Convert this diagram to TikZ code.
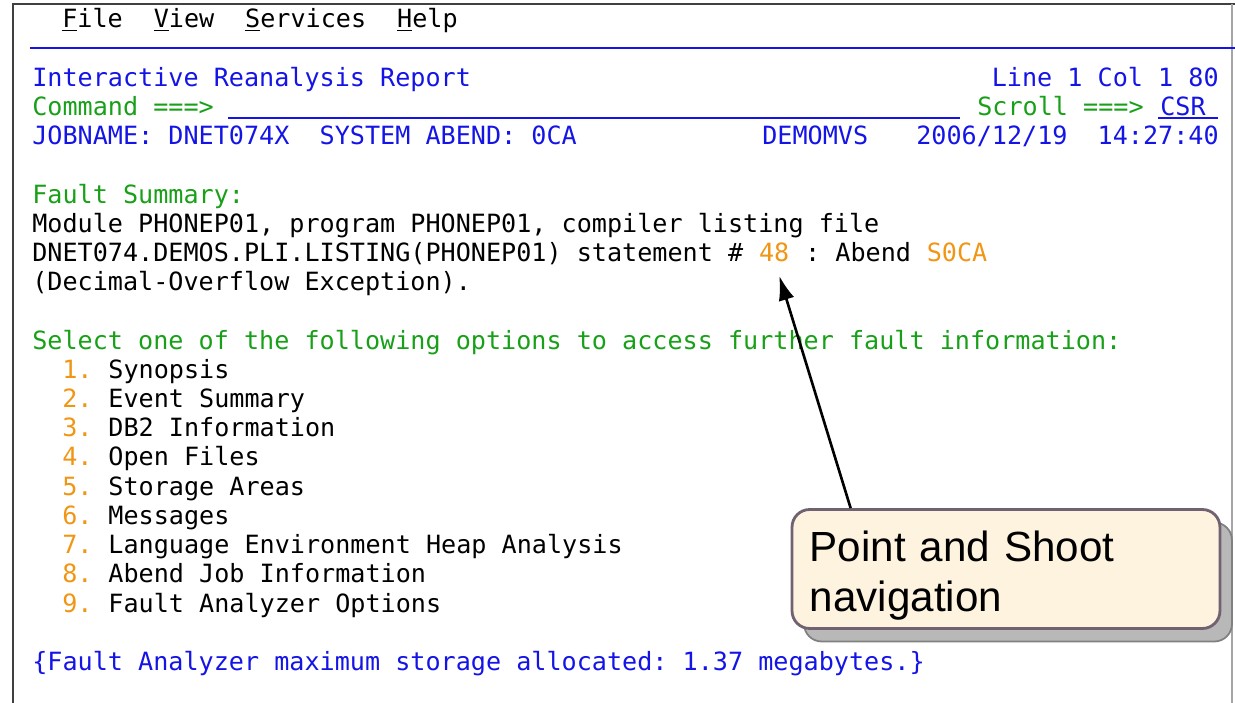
\documentclass[tikz,border=0pt]{standalone}
\usepackage{fontspec}
\setmainfont{Liberation Sans}
\setmonofont{DejaVu Sans Mono}
\usetikzlibrary{arrows.meta}
\usetikzlibrary{shadows}
\usetikzlibrary{positioning}

\definecolor{scrblue}{RGB}{20,20,230}
\definecolor{scrgreen}{RGB}{25,160,25}
\definecolor{scrorange}{RGB}{240,150,20}
\definecolor{notefill}{RGB}{253,243,222}
\definecolor{noteline}{RGB}{112,98,112}

\begin{document}
\begin{tikzpicture}[x=0.02cm,y=-0.02cm,
        every node/.append style={font=\ttfamily\fontsize{14.3}{17}\selectfont, inner sep=0pt, anchor=base west}
    ]
        \useasboundingbox (0,0) rectangle (1235,703);
        % screen frame
        \draw [black!75, line width=1.5pt] (13,703) -- (13,4) -- (1235,4);
        \draw [black!35, line width=.8pt] (1232,4) -- (1232,703);
        \draw [scrblue, line width=1pt] (30,48) -- (1235,48);

        \node (m1) at (62,28) {\underline{F}ile};
        \node (m2) [base right=17.2pt of m1] {\underline{V}iew};
        \node (m3) [base right=17.2pt of m2] {\underline{S}ervices};
        \node (m4) [base right=17.2pt of m3] {\underline{H}elp};

        \node (title) [scrblue] at (32,86) {Interactive Reanalysis Report};
        \node (pos) [scrblue, anchor=base east] at (1219,86) {Line 1 Col 1 80};
        \node (cmd) [scrgreen] at (32,115) {Command ===>};
        \node (scroll) [scrgreen] at (977,115) {Scroll ===>};
        \node (csr) [scrblue] at (1160,115) {CSR};
        \draw [scrblue, line width=1pt] (228,118) -- (960,118);
        \draw [scrblue, line width=1pt] (1158,118) -- (1218,118);

        \node (job) [scrblue] at (32,144) {JOBNAME: DNET074X\ \ SYSTEM ABEND: 0CA};
        \node (sys) [scrblue] at (762,144) {DEMOMVS};
        \node (date) [scrblue] at (916,144) {2006/12/19};
        \node (time) [scrblue, anchor=base east] at (1219,144) {14:27:40};

        \node (fs) [scrgreen] at (32,203) {Fault Summary:};
        \node (mod) at (32,232) {Module PHONEP01, program PHONEP01, compiler listing file};
        \node (lst) at (32,261) {DNET074.DEMOS.PLI.LISTING(PHONEP01) statement \#};
        \node (stmt) [scrorange, base right=8.6pt of lst] {48};
        \node (abend) [base right=8.6pt of stmt] {: Abend};
        \node (code) [scrorange, base right=8.6pt of abend] {S0CA};
        \node (dec) at (32,290) {(Decimal-Overflow Exception).};

        \node (sel) [scrgreen] at (32,349) {Select one of the following options to access further fault information:};
        \node (n1) [scrorange] at (62,378) {1.};
        \node (o1) [base right=8.6pt of n1] {Synopsis};
        \node (n2) [scrorange] at (62,407.25) {2.};
        \node (o2) [base right=8.6pt of n2] {Event Summary};
        \node (n3) [scrorange] at (62,436.5) {3.};
        \node (o3) [base right=8.6pt of n3] {DB2 Information};
        \node (n4) [scrorange] at (62,465.75) {4.};
        \node (o4) [base right=8.6pt of n4] {Open Files};
        \node (n5) [scrorange] at (62,495) {5.};
        \node (o5) [base right=8.6pt of n5] {Storage Areas};
        \node (n6) [scrorange] at (62,524.25) {6.};
        \node (o6) [base right=8.6pt of n6] {Messages};
        \node (n7) [scrorange] at (62,553.5) {7.};
        \node (o7) [base right=8.6pt of n7] {Language Environment Heap Analysis};
        \node (n8) [scrorange] at (62,582.75) {8.};
        \node (o8) [base right=8.6pt of n8] {Abend Job Information};
        \node (n9) [scrorange] at (62,612) {9.};
        \node (o9) [base right=8.6pt of n9] {Fault Analyzer Options};

        \node (mem) [scrblue] at (32,670) {\{Fault Analyzer maximum storage allocated: 1.37 megabytes.\}};

        % callout
        \node (note) [anchor=center, draw=noteline, fill=notefill, line width=1.6pt, rounded corners=10pt,
            minimum width=8.56cm, minimum height=2.38cm, inner xsep=.34cm, text width=7.85cm, align=left,
            font=\rmfamily\fontsize{24}{28.5}\selectfont,
            drop shadow={shadow xshift=.24cm, shadow yshift=-.26cm, fill=black!28, draw=black!50, line width=1pt, opacity=1}]
            at (1006,569) {\rule{0pt}{24.5pt}Point and Shoot\\navigation};

        \draw [-{Latex[length=14pt,width=9pt]}, line width=1.5pt] ([xshift=1.2cm]note.north west) -- ([xshift=.1cm,yshift=-.28cm]stmt.south);
    \end{tikzpicture}
\end{document}
